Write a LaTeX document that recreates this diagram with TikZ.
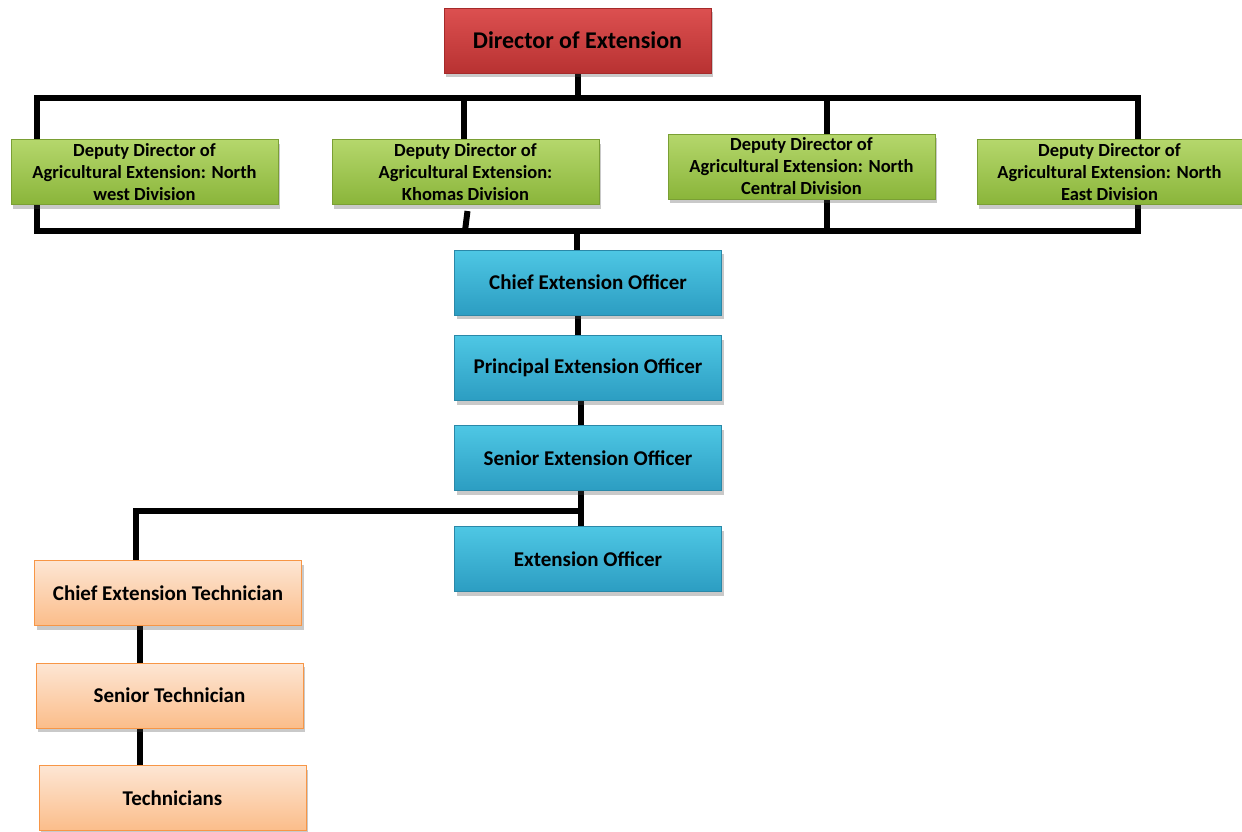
\documentclass[tikz,border=0pt]{standalone}
\usepackage{fontspec}
\setmainfont{Carlito}
\usetikzlibrary{shadows}
\pgfdeclarelayer{bg}
\pgfsetlayers{bg,main}
\definecolor{redtop}{HTML}{DC5050}
\definecolor{redbot}{HTML}{B83232}
\definecolor{redline}{HTML}{A52A2A}
\definecolor{grntop}{HTML}{B5D76C}
\definecolor{grnbot}{HTML}{8AB53A}
\definecolor{grnline}{HTML}{7A9F34}
\definecolor{blutop}{HTML}{4EC7E4}
\definecolor{blubot}{HTML}{2C9DC2}
\definecolor{bluline}{HTML}{2A88A8}
\definecolor{orntop}{HTML}{FDE6D4}
\definecolor{ornbot}{HTML}{FBBD8A}
\definecolor{ornline}{HTML}{F79646}
\begin{document}
\begin{tikzpicture}[x=1pt,y=-1pt,
  box/.style={rectangle, minimum width=267pt, minimum height=65pt, inner sep=2pt,
    align=center, text=black, line width=1pt,
    drop shadow={shadow xshift=2pt, shadow yshift=-4pt, opacity=0.3, fill=black!70}},
  redbox/.style={box, top color=redtop, bottom color=redbot, draw=redline, font=\fontsize{24}{28}\selectfont\bfseries},
  grnbox/.style={box, top color=grntop, bottom color=grnbot, draw=grnline, font=\fontsize{18.5}{22}\selectfont\bfseries},
  blubox/.style={box, top color=blutop, bottom color=blubot, draw=bluline, font=\fontsize{21}{25}\selectfont\bfseries},
  ornbox/.style={box, top color=orntop, bottom color=ornbot, draw=ornline, font=\fontsize{21}{25}\selectfont\bfseries},
  conn/.style={line width=6pt, black}]
\useasboundingbox (0,0) rectangle (1242,831);

% nodes
\node[redbox] (dir) at (577.5,40.5) {Director of Extension};
\node[grnbox] (g1) at (144.5,172) {Deputy Director of\\Agricultural Extension: North\\west Division};
\node[grnbox] (g2) at (465.5,172) {Deputy Director of\\Agricultural Extension:\\Khomas Division};
\node[grnbox] (g3) at (801.5,166.5) {Deputy Director of\\Agricultural Extension: North\\Central Division};
\node[grnbox, minimum width=265pt] (g4) at (1109.5,172) {Deputy Director of\\Agricultural Extension: North\\East Division};
\node[blubox] (ceo) at (588,282.5) {Chief Extension Officer};
\node[blubox] (peo) at (588,368) {Principal Extension Officer};
\node[blubox] (seo) at (588,458) {Senior Extension Officer};
\node[blubox] (eo) at (588,559) {Extension Officer};
\node[ornbox] (cet) at (168,593) {Chief Extension Technician};
\node[ornbox] (st) at (169.5,695.5) {Senior Technician};
\node[ornbox] (tn) at (172.5,798) {Technicians};

% bus coordinates
\coordinate (T1) at (37,98);
\coordinate (T2) at (464,98);
\coordinate (T3) at (827,98);
\coordinate (T4) at (1138,98);
\coordinate (B1) at (37,231);
\coordinate (B2) at (465,231);
\coordinate (B3) at (827,231);
\coordinate (B4) at (1138,231);
\coordinate (Bc) at (577,231);
\coordinate (S1) at (136,511);
\coordinate (S2) at (581,511);

\begin{pgfonlayer}{bg}
\draw[conn] (dir.south) -- (dir.south |- T1);
\draw[conn] ([xshift=-3pt]T1) -- ([xshift=3pt]T4);
\draw[conn] (T1) -- ([yshift=-5pt]T1 |- g1.north);
\draw[conn] (T2) -- ([yshift=-5pt]T2 |- g2.north);
\draw[conn] (T3) -- (B3);
\draw[conn] (T4) -- ([yshift=-5pt]T4 |- g3.north);
\draw[conn] (B1 |- g1.south) -- (B1);
\draw[conn] ([xshift=-3pt]B1) -- ([xshift=3pt]B4);
\draw[conn] (B4 |- g4.south) -- (B4);
\draw[conn] (Bc) -- (Bc |- ceo.north);
\draw[conn] ([xshift=-10pt]ceo.south) -- ([xshift=-10pt]peo.north);
\draw[conn] ([xshift=-7pt]peo.south) -- ([xshift=-7pt]seo.north);
\draw[conn] ([xshift=-7pt]seo.south) -- ([xshift=-7pt]eo.north);
\draw[conn] (S2) -- ([xshift=-3pt]S1) ;
\draw[conn] (S1) -- (S1 |- cet.north);
\draw[conn] ([xshift=-28pt,yshift=4pt]cet.south) -- ([xshift=-29.5pt]st.north);
\draw[conn] ([xshift=-29.5pt]st.south) -- ([xshift=-32.5pt]tn.north);
\end{pgfonlayer}
\draw[conn] (B2) -- ([xshift=2pt,yshift=-6pt]g2.south);
\end{tikzpicture}
\end{document}
